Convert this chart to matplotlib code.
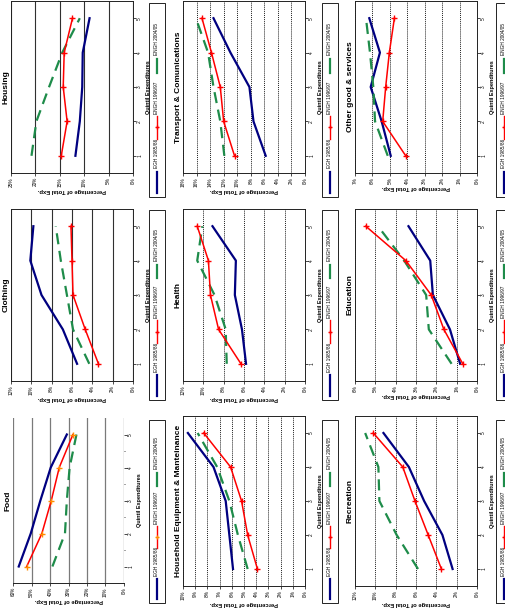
import matplotlib
matplotlib.use('Agg')
import matplotlib.pyplot as plt
from matplotlib.lines import Line2D
from matplotlib.patches import Rectangle

plt.rcParams['font.family'] = ['Liberation Sans', 'DejaVu Sans']

W, H = 506, 608
quintiles = [1, 2, 3, 4, 5]
series_names = ['EGH 1985/86', 'ENGH 1996/97', 'ENGH 2004/05']
quintile_label = 'Quintil Expenditures'
pct_label = 'Percentage of Total Exp.'

# values (% of total expenditure by quintile)
food_8586 = [56.9, 50.4, 45.2, 39.6, 30.9]
food_9697 = [52.6, 44.4, 39.3, 35.0, 27.6]
food_0405 = [38.7, 31.9, 30.9, 29.4, 25.7]

clothing_8586 = [5.5, 6.9, 9.0, 10.1, 9.8]
clothing_9697 = [3.4, 4.7, 5.9, 6.0, 6.1]
clothing_0405 = [4.3, 5.9, 6.5, 7.1, 7.6]

housing_8586 = [11.8, 10.9, 10.4, 10.3, 8.9]
housing_9697 = [14.7, 13.5, 14.3, 14.1, 12.4]
housing_0405 = [20.8, 19.8, 17.2, 14.5, 10.9]

household_8586 = [5.9, 6.2, 6.5, 7.5, 9.6]
household_9697 = [3.9, 4.7, 5.2, 6.1, 8.3]
household_0405 = [4.7, 5.5, 6.2, 7.2, 8.8]

health_8586 = [5.8, 6.2, 6.9, 6.8, 9.1]
health_9697 = [6.3, 8.5, 9.3, 9.5, 10.6]
health_0405 = [7.7, 7.8, 8.9, 10.6, 10.1]

transport_8586 = [5.8, 7.6, 8.2, 11.0, 13.5]
transport_9697 = [10.4, 12.0, 12.5, 13.8, 15.2]
transport_0405 = [11.9, 12.5, 13.5, 14.3, 16.1]

recreation_8586 = [2.4, 3.4, 5.2, 6.7, 9.2]
recreation_9697 = [3.5, 4.8, 6.1, 7.3, 10.2]
recreation_0405 = [5.8, 7.9, 9.6, 9.7, 11.0]

education_8586 = [0.83, 1.33, 2.17, 2.3, 3.37]
education_9697 = [0.7, 1.63, 2.25, 3.5, 5.47]
education_0405 = [1.25, 2.37, 2.5, 3.58, 4.87]

other_8586 = [4.95, 5.47, 6.1, 5.57, 6.18]
other_9697 = [4.09, 5.41, 5.24, 5.03, 4.74]
other_0405 = [5.12, 5.85, 5.95, 6.14, 6.37]

fig = plt.figure(figsize=(W / 100, H / 100), dpi=100)


def fx(x):
    return x / W


def fy(y):
    return 1 - y / H


def add_box(x0, x1, y0, y1):
    return fig.add_axes([fx(x0), fy(y1), fx(x1) - fx(x0), fy(y0) - fy(y1)])


def draw_legend(x0, x1, y0, y1, marker_color):
    L = y1 - y0
    xc = fx((x0 + x1) / 2)
    fig.add_artist(Rectangle((fx(x0), fy(y1)), fx(x1) - fx(x0), fy(y0) - fy(y1),
                             transform=fig.transFigure, fill=False, lw=0.6, ec='black'))
    # blue entry
    fig.add_artist(Line2D([xc, xc], [fy(y1 - 0.02 * L), fy(y1 - 0.13 * L)],
                          transform=fig.transFigure, color='#000080', lw=1.6))
    fig.text(xc, fy(y1 - 0.15 * L), series_names[0], rotation=90, ha='center',
             va='bottom', fontsize=3.4)
    # red entry
    fig.add_artist(Line2D([xc, xc, xc], [fy(y1 - 0.30 * L), fy(y1 - 0.36 * L), fy(y1 - 0.42 * L)],
                          transform=fig.transFigure, color='red', lw=1.0,
                          marker='+', markevery=[1], ms=3.5, mec=marker_color))
    fig.text(xc, fy(y1 - 0.43 * L), series_names[1], rotation=90, ha='center',
             va='bottom', fontsize=3.4)
    # green entry
    fig.add_artist(Line2D([xc, xc], [fy(y1 - 0.64 * L), fy(y1 - 0.71 * L)],
                          transform=fig.transFigure, color='#1E8C4A', lw=1.6))
    fig.text(xc, fy(y1 - 0.73 * L), series_names[2], rotation=90, ha='center',
             va='bottom', fontsize=3.4)


def panel(box, legend, title, s1, s2, s3, top, step, grid_style, food=False):
    ax = add_box(*box)
    marker_color = '#FF8C00' if food else 'red'
    ax.plot(s1, quintiles, color='#000080', lw=1.6, zorder=3)
    ax.plot(s2, quintiles, color='red', lw=1.1, marker='+', ms=4, mew=1.0,
            mec=marker_color, zorder=4)
    ax.plot(s3, quintiles, color='#1E8C4A', lw=1.6, dashes=(5, 3), zorder=3)
    ax.set_xlim(top, 0)
    ax.set_ylim(0.5, 5.5)
    ticks = list(range(0, top + 1, step))
    ax.set_xticks(ticks)
    ax.set_xticklabels(['%d%%' % t for t in ticks], rotation=90, fontsize=3.4)
    ax.set_yticks(quintiles)
    ax.set_yticklabels([str(q) for q in quintiles], rotation=90, fontsize=3.4,
                       va='center')
    ax.yaxis.tick_right()
    ax.yaxis.set_label_position('right')
    ax.tick_params(axis='both', length=2, width=0.5, pad=1)
    ax.set_xlabel(pct_label, rotation=180, fontsize=4.2, fontweight='bold', labelpad=1)
    ax.set_ylabel(quintile_label, rotation=90, fontsize=4.0, fontweight='bold', labelpad=3)
    if grid_style == 'solid':
        ax.grid(axis='x', color='#303030', lw=0.8, ls='-')
    elif grid_style == 'food':
        ax.grid(axis='x', color='#7a7a7a', lw=0.9, ls='-')
    else:
        ax.grid(axis='x', color='#202020', lw=0.7, ls=(0, (1, 1)))
    ax.set_axisbelow(True)
    for sp in ax.spines.values():
        sp.set_linewidth(0.7)
        sp.set_color('#222222')
    if food:
        ax.spines['top'].set_visible(False)
        ax.spines['left'].set_visible(False)
        ax.spines['right'].set_visible(False)
        ax.set_yticks([1.5, 2.5, 3.5, 4.5], minor=True)
        ax.tick_params(axis='y', which='minor', right=True, length=1, width=0.5)
    ax.text(-0.01, 0.5, title, transform=ax.transAxes, rotation=90, ha='right',
            va='center', fontsize=6, fontweight='bold')
    draw_legend(*legend, marker_color)
    return ax


cols_box = [(11, 133), (183, 305), (355, 477)]
rows_box = [(1, 173), (209, 381), (416, 586)]
cols_leg = [(149, 165), (322, 338), (496, 512)]
rows_leg = [(3, 197), (210, 400), (420, 603)]


def box_of(c, r):
    return (cols_box[c][0], cols_box[c][1], rows_box[r][0], rows_box[r][1])


def leg_of(c, r):
    return (cols_leg[c][0], cols_leg[c][1], rows_leg[r][0], rows_leg[r][1])


panel(box_of(0, 0), leg_of(0, 0), 'Housing', housing_8586, housing_9697, housing_0405, 25, 5, 'solid')
panel(box_of(0, 1), leg_of(0, 1), 'Clothing', clothing_8586, clothing_9697, clothing_0405, 12, 2, 'solid')
panel((13, 124, 418, 583), leg_of(0, 2), 'Food', food_8586, food_9697, food_0405, 60, 10, 'food', food=True)
panel(box_of(1, 0), leg_of(1, 0), 'Transport & Comunications', transport_8586, transport_9697, transport_0405, 18, 2, 'dot')
panel(box_of(1, 1), leg_of(1, 1), 'Health', health_8586, health_9697, health_0405, 12, 2, 'dot')
panel(box_of(1, 2), leg_of(1, 2), 'Household Equipment & Manteinance', household_8586, household_9697, household_0405, 10, 1, 'dot')
panel(box_of(2, 0), leg_of(2, 0), 'Other good & services', other_8586, other_9697, other_0405, 7, 1, 'dot')
panel(box_of(2, 1), leg_of(2, 1), 'Education', education_8586, education_9697, education_0405, 6, 1, 'dot')
panel(box_of(2, 2), leg_of(2, 2), 'Recreation', recreation_8586, recreation_9697, recreation_0405, 12, 2, 'dot')

fig.savefig('out.png', dpi=100)
